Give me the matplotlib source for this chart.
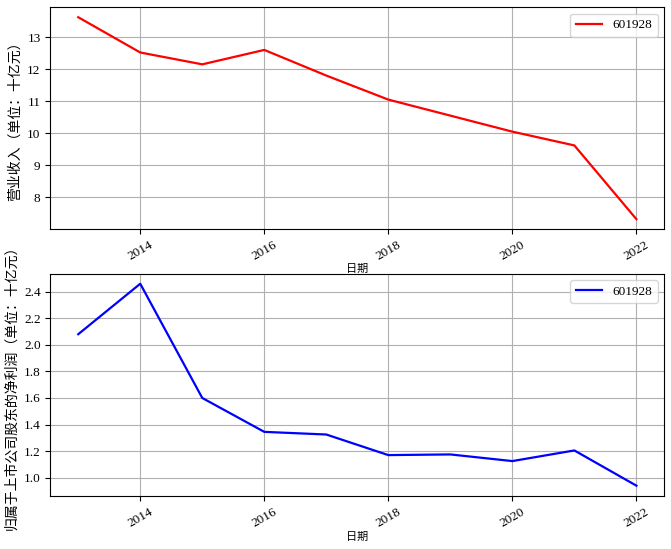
import numpy as np
import matplotlib
matplotlib.use("Agg")
import matplotlib.pyplot as plt
from matplotlib.ticker import FormatStrFormatter

plt.rcParams['font.family'] = ['Liberation Serif', 'Noto Sans CJK SC', 'DejaVu Sans']
plt.rcParams['axes.unicode_minus'] = False

# data
years = [2013, 2014, 2015, 2016, 2017, 2018, 2019, 2020, 2021, 2022]
revenue = [13.62, 12.52, 12.15, 12.60, 11.80, 11.05, 10.55, 10.05, 9.62, 7.32]
net_profit = [2.08, 2.46, 1.60, 1.345, 1.325, 1.17, 1.175, 1.125, 1.205, 0.94]
code = "601928"
xticks = [2014, 2016, 2018, 2020, 2022]
profit_ticks = [1.0, 1.2, 1.4, 1.6, 1.8, 2.0, 2.2, 2.4]

fig, (ax1, ax2) = plt.subplots(2, 1, figsize=(6.71, 5.49), dpi=100)

#top: revenue
ax1.plot(years, revenue, color='red', linewidth=1.6, label=code)
ax1.set_ylabel("营业收入（单位：十亿元）", fontsize=10)
ax1.set_xlabel("日期", fontsize=8, labelpad=1)
ax1.legend(loc='upper right', fontsize=9.5)
ax1.grid(True)

#bottom: net profit
ax2.plot(years, net_profit, color='blue', linewidth=1.6, label=code)
ax2.set_ylabel("归属于上市公司股东的净利润（单位：十亿元）", fontsize=10)
ax2.set_xlabel("日期", fontsize=8, labelpad=2)
ax2.legend(loc='upper right', fontsize=9.5)
ax2.set_yticks(profit_ticks)
ax2.yaxis.set_major_formatter(FormatStrFormatter('%.1f'))
ax2.grid(True)

for ax in (ax1, ax2):
    ax.set_xticks(xticks)
    ax.tick_params(labelsize=9.5)
    for lbl in ax.get_xticklabels():
        lbl.set_rotation(30)

fig.subplots_adjust(left=0.075, right=0.99, top=0.987, bottom=0.097, hspace=0.2)
fig.savefig("out.png")
